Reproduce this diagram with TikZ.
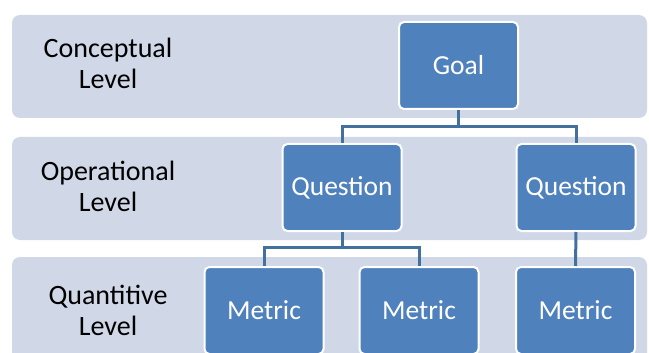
\documentclass[tikz,border=0pt]{standalone}
\usepackage{fontspec}
\setmainfont{Carlito}
\usetikzlibrary{calc}
\definecolor{bandfill}{HTML}{D0D8E8}
\definecolor{boxfill}{HTML}{4F81BD}
\definecolor{linecol}{HTML}{41719C}
\tikzset{
  band/.style={fill=bandfill, draw=none, rounded corners=8pt},
  levelbox/.style={fill=boxfill, draw=white, line width=2pt, rounded corners=5pt,
    minimum width=119pt, minimum height=87pt, inner sep=0pt, text=white,
    font=\fontsize{27.5}{31}\selectfont},
  levellabel/.style={align=center, text=black, font=\fontsize{28}{31}\selectfont},
  conn/.style={draw=linecol, line width=3pt}
}
\begin{document}
\begin{tikzpicture}[x=1pt,y=-1pt]
\useasboundingbox (0,0) rectangle (649,353);
\clip (0,0) rectangle (649,353);
\fill[white] (0,0) rectangle (649,353);
% bands
\path[band] (12,15) rectangle (647,118);
\path[band] (12,137) rectangle (647,240);
\path[band] (12,257) rectangle (647,370);
% labels
\node[levellabel] (l1) at (108,63) {Conceptual\\Level};
\node[levellabel] (l2) at (108,186) {Operational\\Level};
\node[levellabel] (l3) at (108,310) {Quantitive\\Level};
% boxes
\node[levelbox] (goal) at (458.5,65.5) {Goal};
\node[levelbox] (q1) at (342,187.5) {Question};
\node[levelbox] (q2) at (576,187.5) {Question};
\node[levelbox] (m1) at (264,310.5) {Metric};
\node[levelbox] (m2) at (419,310.5) {Metric};
\node[levelbox] (m3) at (575.5,310.5) {Metric};
% connectors
\coordinate (b1) at ($(goal.south)!0.5!(q1.north)$);
\coordinate (b2) at ($(q1.south)!0.45!(m1.north)$);
\draw[conn] (goal.south) -- (goal.south |- b1) -| (q1.north);
\draw[conn] (goal.south |- b1) -| (q2.north);
\draw[conn] (q1.south) -- (q1.south |- b2) -| (m1.north);
\draw[conn] (q1.south |- b2) -| (m2.north);
\draw[conn] (q2.south) -- (m3.north);
\end{tikzpicture}
\end{document}
